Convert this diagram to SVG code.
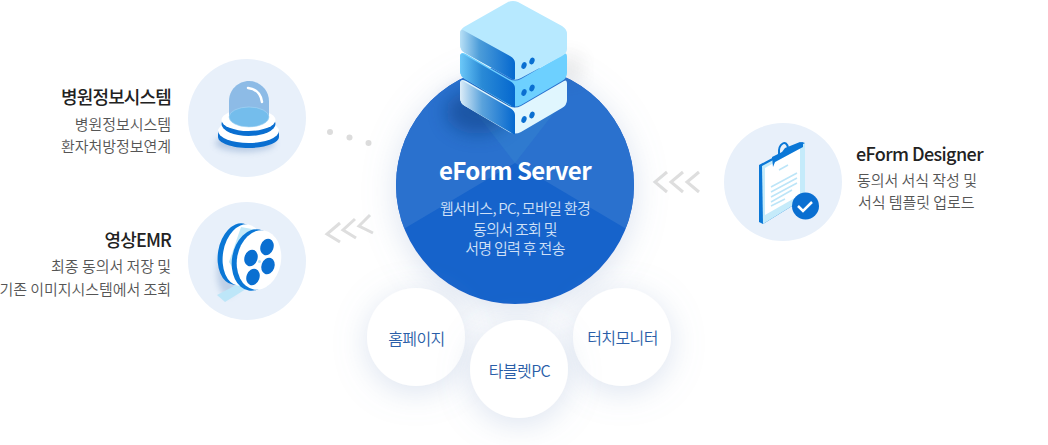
<svg xmlns="http://www.w3.org/2000/svg" width="1048" height="445" viewBox="0 0 1048 445">
<style>
text{font-family:"Noto Sans CJK KR","Noto Sans",sans-serif;letter-spacing:-.6px}
.t{font-size:18px;font-weight:500;fill:#222;letter-spacing:-.85px}
.s{font-size:15px;fill:#555;font-weight:350;letter-spacing:-.05px}
.e{text-anchor:end}.m{text-anchor:middle}
.b{fill:#e8f0fa}.c{fill:none;stroke:#dedede;stroke-width:3}
.k{font-size:16px;fill:#2a5ea8;text-anchor:middle;font-weight:350;letter-spacing:-.6px}
.w{font-size:15px;fill:#cfe0f7;text-anchor:middle;font-weight:350;letter-spacing:-.7px}
.d{fill:#0a6fd1}
</style>
<defs>
<filter id="glow" x="-60%" y="-60%" width="220%" height="220%"><feDropShadow dx="0" dy="6" stdDeviation="16" flood-color="#7f9bc8" flood-opacity=".28"/></filter>
<filter id="blur" x="-50%" y="-50%" width="200%" height="200%"><feGaussianBlur stdDeviation="9"/></filter>
<filter id="blur2" x="-50%" y="-50%" width="200%" height="200%"><feGaussianBlur stdDeviation="3"/></filter>
<linearGradient id="g1" x1="0" x2="1" y1="0" y2="0"><stop offset="0" stop-color="#b8e0f6"/><stop offset=".35" stop-color="#4d9dd9"/><stop offset="1" stop-color="#0568cf"/></linearGradient>
<linearGradient id="g2" x1="0" x2="1" y1="0" y2="0"><stop offset="0" stop-color="#6cc8f8"/><stop offset=".4" stop-color="#2a8ad6"/><stop offset="1" stop-color="#0568cf"/></linearGradient>
<linearGradient id="g3" x1="0" x2="1" y1="0" y2="0"><stop offset="0" stop-color="#dcedf8"/><stop offset=".4" stop-color="#5ba3dc"/><stop offset="1" stop-color="#0568cf"/></linearGradient>
<clipPath id="cc"><circle cx="515" cy="185" r="119"/></clipPath>
</defs>
<g id="connectors">
<circle cx="330" cy="132" r="3" fill="#dcdcdc"/><circle cx="349.500" cy="137.500" r="3" fill="#dcdcdc"/><circle cx="368.500" cy="143" r="3" fill="#dcdcdc"/>
<path class="c" d="M340 223 327 234 340 242M355 219 343 230 356 238M370 215 359 226 373 233"/>
<path class="c" d="M667 172 655 182 667 192M683 172 671 182 683 192M699 172 687 182 699 192"/>
</g>
<g id="node-hospital">
<circle class="b" cx="247" cy="118" r="59"/>
<ellipse cx="245" cy="143" rx="30" ry="9" fill="#6f93c2" opacity=".4" filter="url(#blur2)"/>
<path class="d" d="M218 131v6c0 6 14 11 30.500 11s30.500-5 30.500-11v-6z"/>
<ellipse cx="248.500" cy="131" rx="30.500" ry="12" fill="#fff"/>
<ellipse class="d" cx="248.500" cy="124" rx="27" ry="12"/>
<ellipse cx="248.500" cy="120" rx="27" ry="11" fill="#fff"/>
<path d="M229 117V101c0-11 9-20 20-20s20 9 20 20v16z" fill="#8dbbe6"/>
<ellipse cx="249" cy="117" rx="20" ry="10" fill="#74bdec" stroke="#a9d7f5" stroke-width=".6"/>
<path d="M248 88c8 1 13 6 14 14" fill="none" stroke="#fff" stroke-width="2.500" stroke-linecap="round"/>
<text class="t e" x="171" y="104">병원정보시스템</text>
<text class="s e" x="171" y="130">병원정보시스템</text>
<text class="s e" x="171" y="152">환자처방정보연계</text>
</g>
<g id="node-emr">
<circle class="b" cx="247" cy="261" r="59"/>
<ellipse cx="228" cy="272" rx="11" ry="24" fill="#6f93c2" opacity=".35" filter="url(#blur2)"/>
<path d="M217 295 240 283 246 289 225 302z" fill="#bde6f8"/>
<ellipse cx="238" cy="254" rx="20" ry="31" transform="rotate(10 238 254)" fill="#0a77d6"/>
<ellipse cx="243" cy="255" rx="20" ry="31" transform="rotate(10 243 255)" fill="#fff"/>
<path d="M241 227 262 231 268 286 246 289 229 262z" fill="#c3e9f8"/>
<ellipse cx="254" cy="260" rx="22" ry="31" transform="rotate(10 254 260)" fill="#0a77d6"/>
<ellipse cx="259" cy="260" rx="22" ry="30" transform="rotate(10 259 260)" fill="#fff"/>
<ellipse class="d" cx="267" cy="247" rx="6.500" ry="8.500" transform="rotate(20 267 247)"/>
<ellipse class="d" cx="251" cy="258" rx="6.500" ry="8.500" transform="rotate(20 251 258)"/>
<ellipse class="d" cx="268" cy="266" rx="6.500" ry="8.500" transform="rotate(20 268 266)"/>
<ellipse class="d" cx="253" cy="277" rx="6.500" ry="8.500" transform="rotate(20 253 277)"/>
<circle cx="259.500" cy="261.500" r="1.500" fill="#bde6f8"/>
<text class="t e" x="171" y="247">영상EMR</text>
<text class="s e" x="171" y="272">최종 동의서 저장 및</text>
<text class="s e" x="171" y="295">기존 이미지시스템에서 조회</text>
</g>
<g id="node-server">
<circle cx="515" cy="185" r="119" fill="#1763cb" filter="url(#glow)"/>
<g clip-path="url(#cc)">
<path d="M515 163 390 237V60H640V237z" fill="#2a71ce"/>
<path d="M515 163 470 105H560z" fill="#2f7acf"/>
</g>
<ellipse cx="478" cy="112" rx="32" ry="22" fill="#0c3a7d" opacity=".5" filter="url(#blur)"/>
<ellipse cx="570" cy="68" rx="12" ry="14" fill="#555" opacity=".12" filter="url(#blur)"/>
<path d="M466 81 509 106Q515 109 521 106L564 81Q567 79 567 84V100Q567 105 562 108L521 132Q515 135 509 132L465 106Q460 103 460 98V84Q460 78 466 81z" fill="#e0f6fe"/>
<path d="M463 81 510 108Q515 111 515 115V134Q514 135 510 132L465 106Q460 103 460 98V84Q460 80 463 81z" fill="url(#g3)"/>
<path d="M466 54 509 79Q515 82 521 79L564 54Q567 52 567 57V73Q567 78 562 81L521 105Q515 108 509 105L465 79Q460 76 460 71V57Q460 51 466 54z" fill="#6dd0ff"/>
<path d="M463 54 510 81Q515 84 515 88V107Q514 108 510 105L465 79Q460 76 460 71V57Q460 53 463 54z" fill="url(#g2)"/>
<path d="M508 2Q513 0 518 2L562 26Q567 29 567 34V49Q567 53 562 56L521 78Q516 81 512 79L465 53Q460 50 460 45V34Q460 30 464 27z" fill="#b7e9ff"/>
<path d="M463 30 510 56Q515 59 515 63V79Q514 81 510 78L465 53Q460 50 460 45V34Q460 29 463 30z" fill="url(#g1)"/>
<g class="d"><ellipse cx="524" cy="65.500" rx="2.500" ry="3.500" transform="rotate(20 524 65.500)"/><ellipse cx="532" cy="61" rx="2.500" ry="3.500" transform="rotate(20 532 61)"/>
<ellipse cx="524" cy="92.500" rx="2.500" ry="3.500" transform="rotate(20 524 92.500)"/><ellipse cx="532" cy="88" rx="2.500" ry="3.500" transform="rotate(20 532 88)"/>
<ellipse cx="524" cy="119.500" rx="2.500" ry="3.500" transform="rotate(20 524 119.500)"/><ellipse cx="532" cy="115" rx="2.500" ry="3.500" transform="rotate(20 532 115)"/></g>
<text x="515" y="180" text-anchor="middle" font-size="24" font-weight="700" fill="#fff">eForm Server</text>
<text class="w" x="515" y="214">웹서비스, PC, 모바일 환경</text>
<text class="w" x="515" y="235">동의서 조회 및</text>
<text class="w" x="515" y="254">서명 입력 후 전송</text>
</g>
<g id="node-designer">
<circle class="b" cx="783" cy="182" r="59"/>
<path d="M759 165 802 142 805 143 805 198 763 224 759 222z" fill="#0a77d6"/>
<path d="M762 166 805 143 805 198 763 224z" fill="#c5ebfa"/>
<path d="M765 168 800 148 800 195 765 215z" fill="#fff"/>
<path d="M772 157 782 152 785 148 790 146 800 142 803 143 803 147 775 162 773 167z" fill="#0a77d6"/>
<path d="M779 154C778 143 787 139 788 148" fill="none" stroke="#0a77d6" stroke-width="2"/>
<path d="M779 170 788 165M771 187 797 173M771 192 797 178M771 197 797 183M771 202 792 190M771 206 785 199" stroke="#bce5f8" stroke-width="1.500" fill="none"/>
<circle cx="805.500" cy="206" r="13.500" fill="#0a6fd1"/>
<path d="M798 206 803 211 812 202" fill="none" stroke="#fff" stroke-width="2.500"/>
<text class="t" x="856" y="161" style="letter-spacing:-.6px">eForm Designer</text>
<text class="s" x="857" y="186">동의서 서식 작성 및</text>
<text class="s" x="858" y="208">서식 템플릿 업로드</text>
</g>
<g id="node-home"><circle cx="416" cy="337" r="49" fill="#fff" filter="url(#glow)"/><text class="k" x="416.500" y="345">홈페이지</text></g>
<g id="node-touch"><circle cx="622" cy="337" r="49" fill="#fff" filter="url(#glow)"/><text class="k" x="622.500" y="344">터치모니터</text></g>
<g id="node-tablet"><circle cx="519" cy="369" r="49" fill="#fff" filter="url(#glow)"/><text class="k" x="519.500" y="377">타블렛PC</text></g>
</svg>
